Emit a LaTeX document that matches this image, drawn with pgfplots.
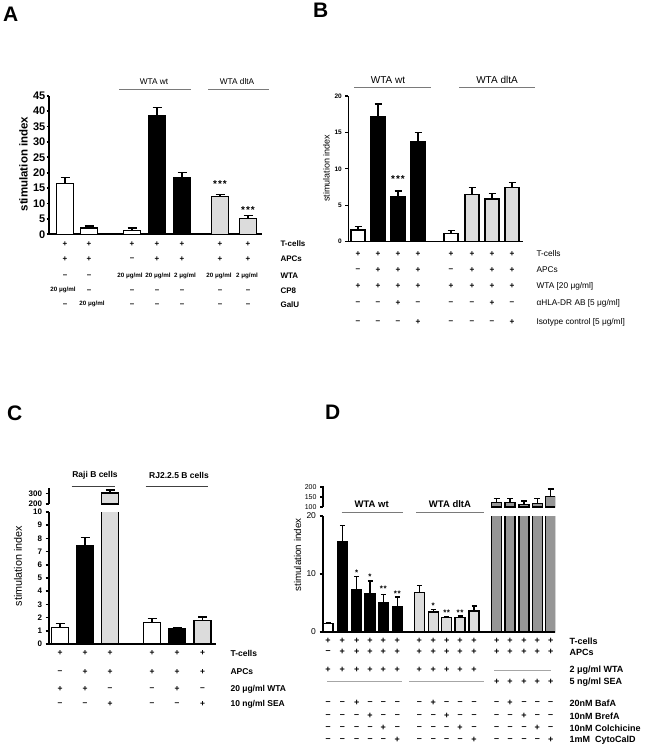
\documentclass[border=0pt]{standalone}
\usepackage{fontspec}
\setmainfont{Liberation Sans}
\usepackage{pgfplots}
\pgfplotsset{compat=1.18}

\definecolor{lgray}{HTML}{DCDCDC}
\definecolor{dgray}{HTML}{969696}
\definecolor{rulegray}{HTML}{7A7A7A}

\newcommand\fs[1]{\fontsize{#1}{#1}\selectfont}
\newcommand\ug{20 μg/ml}
\newcommand\ugt{2 μg/ml}
% one row of the condition table: node options, y (px from top), list of x/symbol
\newcommand\tabrow[3]{\foreach \x/\s in {#3}{\node[#1] at (\x pt,-#2pt) {\s};}}

\pgfplotsset{
  panel/.style={scale only axis, anchor=south west,
    axis x line*=bottom, axis y line*=left,
    xtick=\empty, tick align=outside,
    /pgf/number format/assume math mode=true,
    every tick/.style={black}, major tick length=3.5pt},
  bars/.style n args={3}{ybar, bar shift=0pt, bar width=#1, draw=black, line width=#2,
    error bars/y dir=plus, error bars/y explicit,
    error bars/error bar style={line width=#2, black},
    error bars/error mark options={rotate=90, mark size=#3, line width=#2, black}},
}

\begin{document}
\begin{tikzpicture}
\path[use as bounding box] (0pt,0pt) rectangle (649pt,-749pt);

% ---------------- panel letters
\node[font=\fs{21}\bfseries, anchor=base west, inner sep=0] at (3pt,-22pt) {A};
\node[font=\fs{21}\bfseries, anchor=base west, inner sep=0] at (313pt,-18pt) {B};
\node[font=\fs{21}\bfseries, anchor=base west, inner sep=0] at (7pt,-420pt) {C};
\node[font=\fs{21}\bfseries, anchor=base west, inner sep=0] at (325pt,-419pt) {D};

% ================= A
\begin{axis}[panel, at={(49pt,-234.3pt)}, width=213pt, height=138.6pt,
  xmin=49, xmax=262, ymin=0, ymax=45, ytick distance=5,
  axis line style={line width=1.8pt}, every tick/.style={black, line width=1.8pt},
  major tick length=2.5pt,
  yticklabel style={font=\fs{11}\bfseries, inner sep=1pt}]
\addplot[bars={17}{1.4pt}{4.5pt}, fill=white] coordinates {(65,16.5) +- (0,1.9) (89,2.1) +- (0,0.6) (132,1.3) +- (0,0.8)};
\addplot[bars={17}{1.4pt}{4.5pt}, fill=black] coordinates {(157,38.5) +- (0,2.7) (182,18.4) +- (0,1.6)};
\addplot[bars={17}{1.4pt}{4.5pt}, fill=lgray] coordinates {(220,12.2) +- (0,0.8) (248,5.1) +- (0,1.1)};
\node[font=\fs{10}\bfseries] at (axis cs:220,16.2) {*\kern1pt*\kern1pt*};
\node[font=\fs{10}\bfseries] at (axis cs:248,7.9) {*\kern1pt*\kern1pt*};
\end{axis}
\node[font=\fs{11.5}\bfseries, rotate=90] at (23.5pt,-164pt) {stimulation index};
\draw[rulegray, line width=0.9pt] (119pt,-89pt) -- (191pt,-89pt);
\draw[rulegray, line width=0.9pt] (208pt,-89pt) -- (269pt,-89pt);
\node[font=\fs{8.3}] at (154pt,-82pt) {WTA wt};
\node[font=\fs{8.3}] at (237pt,-82pt) {WTA dltA};
\tabrow{font=\fs{8}\bfseries}{244}{65/+,89/+,132/+,157/+,182/+,220/+,248/+}
\tabrow{font=\fs{8}\bfseries}{259}{65/+,89/+,132/–,157/+,182/+,220/+,248/+}
\tabrow{font=\fs{8}\bfseries}{276}{65/–,89/–}
\tabrow{font=\fs{6.2}\bfseries}{276}{130/\ug,158/\ug,185/\ugt,219/\ug,247/\ugt}
\tabrow{font=\fs{6.2}\bfseries}{290}{63/\ug}
\tabrow{font=\fs{8}\bfseries}{291}{89/–,132/–,157/–,182/–,220/–,248/–}
\tabrow{font=\fs{6.2}\bfseries}{304}{92/\ug}
\tabrow{font=\fs{8}\bfseries}{305}{65/–,132/–,157/–,182/–,220/–,248/–}
\foreach \y/\t in {244/T-cells,259/APCs,276/WTA,291/CP8,305/GalU}
  {\node[font=\fs{8}\bfseries, anchor=west] at (277pt,-\y pt) {\t};}

% ================= B
\begin{axis}[panel, at={(348.3pt,-241.7pt)}, width=175pt, height=145.7pt,
  xmin=348.3, xmax=523.3, ymin=0, ymax=20, ytick distance=5,
  axis line style={line width=1.4pt}, every tick/.style={black, line width=1.2pt},
  major tick length=3pt,
  yticklabel style={font=\fs{6.5}\bfseries}]
\addplot[bars={14}{1.2pt}{3.5pt}, fill=white] coordinates {(358,1.6) +- (0,0.45) (451,1.15) +- (0,0.35)};
\addplot[bars={14}{1.2pt}{3.5pt}, fill=black] coordinates {(378,17.2) +- (0,1.7) (398,6.2) +- (0,0.75) (418,13.8) +- (0,1.2)};
\addplot[bars={14}{1.2pt}{3.5pt}, fill=lgray] coordinates {(472,6.5) +- (0,0.9) (492,5.86) +- (0,0.75) (512,7.4) +- (0,0.75)};
\node[font=\fs{10}\bfseries] at (axis cs:398,8.6) {*\kern1pt*\kern1pt*};
\end{axis}
\node[font=\fs{9}, rotate=90] at (326.5pt,-168pt) {stimulation index};
\draw[rulegray, line width=0.9pt] (354pt,-87pt) -- (431pt,-87pt);
\draw[rulegray, line width=0.9pt] (459pt,-87pt) -- (535pt,-87pt);
\node[font=\fs{10}] at (388pt,-80pt) {WTA wt};
\node[font=\fs{10}] at (497pt,-80pt) {WTA dltA};
\tabrow{font=\fs{8.3}\bfseries}{254}{358/+,378/+,398/+,418/+,451/+,472/+,492/+,512/+}
\tabrow{font=\fs{8.3}\bfseries}{270}{358/–,378/+,398/+,418/+,451/–,472/+,492/+,512/+}
\tabrow{font=\fs{8.3}\bfseries}{286}{358/+,378/+,398/+,418/+,451/+,472/+,492/+,512/+}
\tabrow{font=\fs{8.3}\bfseries}{303}{358/–,378/–,398/+,418/–,451/–,472/–,492/+,512/–}
\tabrow{font=\fs{8.3}\bfseries}{322}{358/–,378/–,398/–,418/+,451/–,472/–,492/–,512/+}
\node[font=\fs{8.3}, anchor=west] at (533pt,-254pt) {T-cells};
\node[font=\fs{8.3}, anchor=west] at (533pt,-270pt) {APCs};
\node[font=\fs{8.3}, anchor=west] at (533pt,-286pt) {WTA [20 μg/ml]};
\node[font=\fs{8.3}, anchor=west] at (533pt,-303pt) {αHLA-DR AB [5 μg/ml]};
\node[font=\fs{8.3}, anchor=west] at (533pt,-322pt) {Isotype control [5 μg/ml]};

% ================= C (broken axis)
\begin{axis}[panel, at={(49pt,-644pt)}, width=167pt, height=132pt,
  xmin=49, xmax=216, ymin=0, ymax=10, ytick distance=1,
  axis line style={line width=1.8pt}, every tick/.style={black, line width=1.6pt},
  yticklabel style={font=\fs{8}\bfseries}]
\addplot[bars={17}{1.4pt}{4.5pt}, fill=white] coordinates {(60,1.26) +- (0,0.28) (152,1.64) +- (0,0.27)};
\addplot[bars={17}{1.4pt}{4.5pt}, fill=black] coordinates {(85,7.43) +- (0,0.63) (177,1.13) +- (0,0.07)};
\addplot[bars={17}{1.4pt}{4.5pt}, fill=lgray] coordinates {(110,302) +- (0,30) (202.5,1.76) +- (0,0.28)};
\end{axis}
\begin{axis}[panel, at={(49pt,-504pt)}, width=167pt, height=16pt,
  xmin=49, xmax=216, ymin=200, ymax=350, ytick={200,300},
  axis x line=none,
  axis line style={line width=1.8pt}, every tick/.style={black, line width=1.6pt},
  yticklabel style={font=\fs{8}\bfseries}]
\addplot[bars={17}{1.4pt}{4.5pt}, fill=lgray] coordinates {(110,302) +- (0,30)};
\end{axis}
\node[font=\fs{10.8}, rotate=90] at (18pt,-566pt) {stimulation index};
\draw[black!75, line width=0.9pt] (71.7pt,-486pt) -- (115pt,-486pt);
\draw[black!75, line width=0.9pt] (145.7pt,-486pt) -- (207.7pt,-486pt);
\node[font=\fs{8.5}\bfseries] at (95pt,-475pt) {Raji B cells};
\node[font=\fs{8.5}\bfseries] at (179pt,-475pt) {RJ2.2.5 B cells};
\tabrow{font=\fs{8.5}\bfseries}{653}{60/+,85/+,110/+,152/+,177/+,202.5/+}
\tabrow{font=\fs{8.5}\bfseries}{672}{60/–,85/+,110/+,152/+,177/+,202.5/+}
\tabrow{font=\fs{8.5}\bfseries}{689}{60/+,85/+,110/–,152/–,177/+,202.5/–}
\tabrow{font=\fs{8.5}\bfseries}{704}{60/–,85/–,110/+,152/–,177/–,202.5/+}
\node[font=\fs{8.5}\bfseries, anchor=west] at (227pt,-653pt) {T-cells};
\node[font=\fs{8.5}\bfseries, anchor=west] at (227pt,-672pt) {APCs};
\node[font=\fs{8.5}\bfseries, anchor=west] at (227pt,-689pt) {20 μg/ml WTA};
\node[font=\fs{8.5}\bfseries, anchor=west] at (227pt,-704pt) {10 ng/ml SEA};

% ================= D (broken axis)
\begin{axis}[panel, at={(323pt,-632pt)}, width=232pt, height=116pt,
  xmin=323, xmax=555, ymin=0, ymax=20, ytick={0,10,20},
  axis line style={line width=1.6pt}, every tick/.style={black, line width=1.4pt},
  yticklabel style={font=\fs{8.5}}]
\addplot[bars={10}{1.2pt}{2.5pt}, fill=white] coordinates {(328,1.44) +- (0,0.2)};
\addplot[bars={10}{1.2pt}{2.5pt}, fill=black] coordinates {(342.3,15.6) +- (0,2.8) (356.7,7.3) +- (0,2.3) (370,6.7) +- (0,2.1) (383.3,5.0) +- (0,1.5) (397.3,4.3) +- (0,1.75)};
\addplot[bars={10}{1.2pt}{2.5pt}, fill=lgray] coordinates {(419.3,6.8) +- (0,1.15) (433.3,3.46) +- (0,0.4) (446.7,2.48) +- (0,0.22) (460,2.54) +- (0,0.23) (474,3.63) +- (0,0.87)};
\addplot[bars={10}{1.2pt}{2.5pt}, fill=dgray] coordinates {(496.7,121) (510,121) (524,113) (537.3,118) (550.7,152)};
\node[font=\fs{8}\bfseries, anchor=base] at (axis cs:356.7,9.8) {*};
\node[font=\fs{8}\bfseries, anchor=base] at (axis cs:370,9.1) {*};
\node[font=\fs{8}\bfseries, anchor=base] at (axis cs:383.3,6.9) {*\kern0.5pt*};
\node[font=\fs{8}\bfseries, anchor=base] at (axis cs:397.3,6.2) {*\kern0.5pt*};
\node[font=\fs{8}\bfseries, anchor=base] at (axis cs:433.3,4.1) {*};
\node[font=\fs{8}\bfseries, anchor=base] at (axis cs:446.7,2.9) {*\kern0.5pt*};
\node[font=\fs{8}\bfseries, anchor=base] at (axis cs:460,2.9) {*\kern0.5pt*};
\end{axis}
\begin{axis}[panel, at={(323pt,-507pt)}, width=232pt, height=21pt,
  xmin=323, xmax=555, ymin=100, ymax=205, ytick={100,150,200},
  axis x line=none,
  axis line style={line width=1.6pt}, every tick/.style={black, line width=1.4pt},
  major tick length=3pt,
  yticklabel style={font=\fs{7}}]
\addplot[bars={10}{1.2pt}{3pt}, fill=dgray] coordinates {(496.7,121) +- (0,22) (510,121) +- (0,21) (524,113) +- (0,17) (537.3,118) +- (0,24) (550.7,152) +- (0,38)};
\end{axis}
\node[font=\fs{9.8}, rotate=90] at (297.5pt,-555pt) {stimulation index};
\draw[rulegray, line width=0.9pt] (341.7pt,-512.3pt) -- (403.3pt,-512.3pt);
\draw[rulegray, line width=0.9pt] (416pt,-512.3pt) -- (484pt,-512.3pt);
\node[font=\fs{9.5}\bfseries] at (371.7pt,-504pt) {WTA wt};
\node[font=\fs{9.5}\bfseries] at (450pt,-504pt) {WTA dltA};
\tabrow{font=\fs{9}\bfseries}{641}{328/+,342.3/+,356.7/+,370/+,383.3/+,397.3/+,419.3/+,433.3/+,446.7/+,460/+,474/+,496.7/+,510/+,524/+,537.3/+,550.7/+}
\tabrow{font=\fs{9}\bfseries}{652}{328/–,342.3/+,356.7/+,370/+,383.3/+,397.3/+,419.3/+,433.3/+,446.7/+,460/+,474/+,496.7/+,510/+,524/+,537.3/+,550.7/+}
\tabrow{font=\fs{9}\bfseries}{670}{328/+,342.3/+,356.7/+,370/+,383.3/+,397.3/+,419.3/+,433.3/+,446.7/+,460/+,474/+}
\tabrow{font=\fs{9}\bfseries}{682}{496.7/+,510/+,524/+,537.3/+,550.7/+}
\draw[black!35, line width=0.8pt] (494pt,-670pt) -- (551pt,-670pt);
\draw[black!35, line width=0.8pt] (327pt,-681pt) -- (402pt,-681pt);
\draw[black!35, line width=0.8pt] (409pt,-681pt) -- (484pt,-681pt);
\tabrow{font=\fs{9}\bfseries}{703}{328/–,342.3/–,356.7/+,370/–,383.3/–,397.3/–,419.3/–,433.3/+,446.7/–,460/–,474/–,496.7/–,510/+,524/–,537.3/–,550.7/–}
\tabrow{font=\fs{9}\bfseries}{716}{328/–,342.3/–,356.7/–,370/+,383.3/–,397.3/–,419.3/–,433.3/–,446.7/+,460/–,474/–,496.7/–,510/–,524/+,537.3/–,550.7/–}
\tabrow{font=\fs{9}\bfseries}{728}{328/–,342.3/–,356.7/–,370/–,383.3/+,397.3/–,419.3/–,433.3/–,446.7/–,460/+,474/–,496.7/–,510/–,524/–,537.3/+,550.7/–}
\tabrow{font=\fs{9}\bfseries}{740}{328/–,342.3/–,356.7/–,370/–,383.3/–,397.3/+,419.3/–,433.3/–,446.7/–,460/–,474/+,496.7/–,510/–,524/–,537.3/–,550.7/+}
\node[font=\fs{9}\bfseries, anchor=west] at (566pt,-641pt) {T-cells};
\node[font=\fs{9}\bfseries, anchor=west] at (566pt,-652pt) {APCs};
\node[font=\fs{9}\bfseries, anchor=west] at (566pt,-670pt) {2 μg/ml WTA};
\node[font=\fs{9}\bfseries, anchor=west] at (566pt,-682pt) {5 ng/ml SEA};
\node[font=\fs{9}\bfseries, anchor=west] at (566pt,-703pt) {20nM BafA};
\node[font=\fs{9}\bfseries, anchor=west] at (566pt,-716pt) {10nM BrefA};
\node[font=\fs{9}\bfseries, anchor=west] at (566pt,-728pt) {10nM Colchicine};
\node[font=\fs{9}\bfseries, anchor=west] at (566pt,-740pt) {1mM\ \ CytoCalD};
\end{tikzpicture}
\end{document}
